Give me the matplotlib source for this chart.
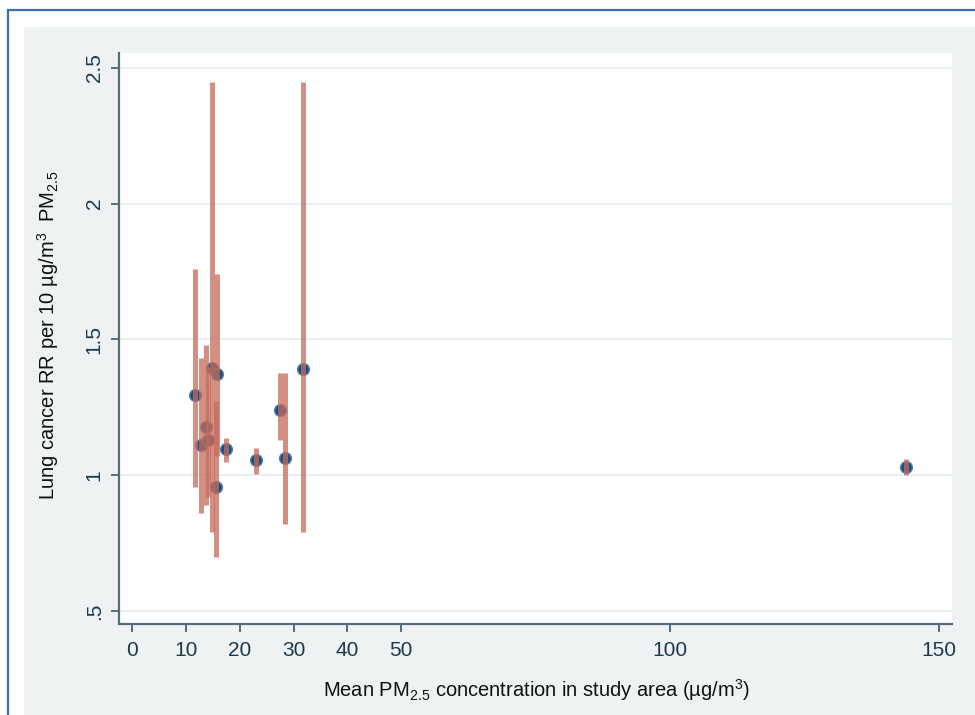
import matplotlib
matplotlib.use("Agg")
import matplotlib.pyplot as plt
from matplotlib.patches import Rectangle
from matplotlib import font_manager

# Study-level estimates
pm25_mean = [11.6, 12.7, 13.7, 14.1, 14.8, 15.8, 15.6, 17.5, 23.0, 27.4, 28.3, 31.7, 144.0]
rr = [1.294, 1.11, 1.178, 1.128, 1.395, 1.372, 0.957, 1.095, 1.055, 1.24, 1.062, 1.39, 1.03]
ci_low = [0.957, 0.86, 0.89, 0.92, 0.79, 1.07, 0.70, 1.05, 1.005, 1.13, 0.82, 0.79, 1.00]
ci_high = [1.76, 1.43, 1.478, 1.40, 2.45, 1.74, 1.275, 1.136, 1.10, 1.375, 1.375, 2.45, 1.06]

x_ticks = [0, 10, 20, 30, 40, 50, 100, 150]
y_ticks = [0.5, 1.0, 1.5, 2.0, 2.5]
y_tick_labels = [".5", "1", "1.5", "2", "2.5"]

installed = {f.name for f in font_manager.fontManager.ttflist}
narrow = "Liberation Sans Narrow" in installed
fam = "Liberation Sans Narrow" if narrow else "Liberation Sans"
scale = 1.2 if narrow else 1.0

plt.rcParams["font.family"] = [fam, "DejaVu Sans"]
plt.rcParams["mathtext.fontset"] = "custom"
plt.rcParams["mathtext.rm"] = fam
plt.rcParams["mathtext.default"] = "regular"

W, H = 975, 715
fig = plt.figure(figsize=(W / 100, H / 100), dpi=100, facecolor="white")

# outer frame: blue border and light grey panel (picture is cropped on right/bottom)
fig.patches.append(Rectangle((8 / W, -0.1), 1.2, 1 - 10 / H + 0.1, transform=fig.transFigure,
                             fill=False, edgecolor="#3b6db3", linewidth=1.6, zorder=-2))
fig.patches.append(Rectangle((24 / W, -0.1), 1.2, 1 - 27 / H + 0.1, transform=fig.transFigure,
                             facecolor="#eef2f2", edgecolor="none", zorder=-1))

ax = fig.add_axes([119 / W, 1 - 624 / H, (952 - 119) / W, (624 - 53) / H])
ax.set_facecolor("white")

axis_col = "#566d79"
tick_col = "#1d3a4c"

for yv in y_ticks:
    ax.axhline(yv, color="#e4edf1", linewidth=1.2, zorder=1)

ax.plot(pm25_mean, rr, "o", markersize=8.5, markerfacecolor="#1e4f7c",
        markeredgecolor="#4f82ad", markeredgewidth=1.0, zorder=2)
ax.vlines(pm25_mean, ci_low, ci_high, colors="#c66a5a", linewidth=3.6, alpha=0.75, zorder=3)

ax.set_xlim(-2.5, 152.5)
ax.set_ylim(0.452, 2.555)
ax.set_xticks(x_ticks)
ax.set_xticklabels([str(v) for v in x_ticks])
ax.set_yticks(y_ticks)
ax.set_yticklabels(y_tick_labels, rotation=90, va="center")

for side in ["top", "right"]:
    ax.spines[side].set_visible(False)
for side in ["left", "bottom"]:
    ax.spines[side].set_color(axis_col)
    ax.spines[side].set_linewidth(1.6)

ax.tick_params(axis="both", direction="out", length=6, width=1.4, color=axis_col,
               labelcolor=tick_col, labelsize=15 * scale)
ax.tick_params(axis="x", pad=6)
ax.tick_params(axis="y", pad=5)

fig.text(537 / W, 1 - 690 / H, "Mean PM$_{2.5}$ concentration in study area (\u00b5g/m$^{3}$)",
         ha="center", va="center", fontsize=14.5 * scale, color="#111111")
fig.text(48 / W, 1 - 335 / H, "Lung cancer RR per 10 \u00b5g/m$^{3}$  PM$_{2.5}$",
         ha="center", va="center", rotation=90, fontsize=14.5 * scale, color="#111111")

fig.savefig("out.png", dpi=100, facecolor="white")
